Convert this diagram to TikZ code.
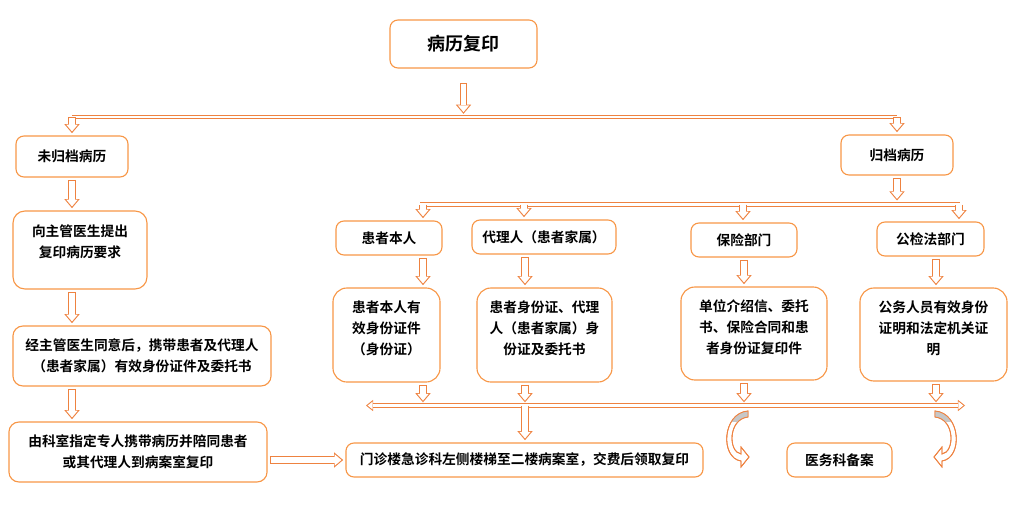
\documentclass[tikz,border=0pt]{standalone}
\usepackage{fontspec}
\usepackage{xcolor}
\usetikzlibrary{arrows.meta}
\setmainfont{Noto Sans CJK SC}[BoldFont={Noto Sans CJK SC Bold}]
\definecolor{BoxOrange}{HTML}{F79646}
\definecolor{LineOrange}{HTML}{EE8240}
\colorlet{FoldGray}{black!22}
\newcommand{\cardfont}{\fontsize{9.75pt}{14.9pt}\selectfont\bfseries}
\newcommand{\titlefont}{\fontsize{12.8pt}{15pt}\selectfont\bfseries}
\tikzset{
  card/.style={draw=BoxOrange, line width=0.8pt, rounded corners=0.2cm, align=center,
    font=\cardfont, outer sep=2pt, minimum height=0.85cm},
  tallcard/.style={card, rounded corners=0.35cm},
  hollow/.style={draw=LineOrange, line width=5.5pt,
    -{Triangle[length=6.5pt,width=11pt,line width=0pt]},
    postaction={draw=white, line width=4pt, shorten <=0.7pt, shorten >=1.2pt,
      -{Triangle[length=4.8pt,width=8.1pt,line width=0pt]}}},
  hollowbus/.style={draw=LineOrange, line width=3.6pt,
    {Triangle[length=5pt,width=8pt,line width=0pt]}-{Triangle[length=5pt,width=8pt,line width=0pt]},
    postaction={draw=white, line width=2.1pt, shorten <=1.2pt, shorten >=1.2pt,
      {Triangle[length=3.5pt,width=5.6pt,line width=0pt]}-{Triangle[length=3.5pt,width=5.6pt,line width=0pt]}}},
  bus/.style={draw=LineOrange, line width=0.8pt, double=white, double distance=1.6pt},
  bendarrow/.style={draw=LineOrange, line width=0.6pt, fill=white},
}

\begin{document}
\begin{tikzpicture}[x=0.025cm, y=-0.025cm]
  \useasboundingbox (0,0) rectangle (1020,513);

  % levels one and two
  \node[card, minimum width=3.675cm, minimum height=1.2cm, font=\titlefont] (title) at (463.5,44) {\raisebox{-4pt}{病历复印}};
  \node[card, minimum width=2.8cm, minimum height=1.025cm] (unarch) at (72,156.5) {未归档病历};
  \node[card, minimum width=2.8cm, minimum height=1cm] (arch) at (897,155) {归档病历};

  % not archived
  \node[tallcard, rounded corners=0.3cm, minimum width=3.35cm, minimum height=1.95cm] (req) at (80,250) {向主管医生提出\\复印病历要求\\[-1.7pt]\mbox{}};
  \node[card, rounded corners=0.25cm, minimum width=6.45cm, minimum height=1.5cm] (consent) at (142,356) {经主管医生同意后，携带患者及代理人\\（患者家属）有效身份证件及委托书};
  \node[card, rounded corners=0.25cm, minimum width=6.45cm, minimum height=1.5cm] (escort) at (138,452) {由科室指定专人携带病历并陪同患者\\或其代理人到病案室复印};

  % archived
  \node[card, minimum width=2.65cm] (self) at (389,238) {患者本人};
  \node[card, minimum width=3.6cm] (agent) at (544,237) {代理人（患者家属）};
  \node[card, minimum width=2.65cm] (insur) at (744,240) {保险部门};
  \node[card, minimum width=2.675cm] (legal) at (930.5,239) {公检法部门};

  \node[tallcard, minimum width=2.675cm, minimum height=2.35cm] (selfdoc) at (386.5,335) {患者本人有\\效身份证件\\（身份证）\\[-5pt]\mbox{}};
  \node[tallcard, minimum width=3.375cm, minimum height=2.35cm] (agentdoc) at (544.5,335) {患者身份证、代理\\人（患者家属）身\\份证及委托书\\[-5pt]\mbox{}};
  \node[tallcard, minimum width=3.65cm, minimum height=2.325cm] (insurdoc) at (754,333.5) {单位介绍信、委托\\书、保险合同和患\\者身份证复印件\\[-5pt]\mbox{}};
  \node[tallcard, minimum width=3.675cm, minimum height=2.325cm] (legaldoc) at (933.5,334.5) {公务人员有效身份\\证明和法定机关证\\明\\[-5pt]\mbox{}};

  \node[card, minimum width=8.925cm] (office) at (524.5,460) {门诊楼急诊科左侧楼梯至二楼病案室，交费后领取复印};
  \node[card, minimum width=2.625cm] (record) at (839.5,460) {医务科备案};

  \coordinate (busL) at (72,117);
  \coordinate (busR) at (897,117);
  \coordinate (bus2L) at (420,204.5);
  \coordinate (bus2R) at (960,204.5);
  \coordinate (bus3L) at (366,405.5);
  \coordinate (bus3R) at (965,405.5);
  \coordinate (d1) at (423,204.5);
  \coordinate (d2) at (524,204.5);
  \coordinate (d3) at (743,204.5);
  \coordinate (d4) at (959,204.5);
  \coordinate (e1) at (423,405.5);
  \coordinate (e2) at (525,405.5);
  \coordinate (e3) at (744,405.5);
  \coordinate (e4) at (936,405.5);

  \draw[hollow] ([yshift=-0.3cm]title.south) -- ([yshift=0.08cm]title.south |- busL);
  \draw[bus] (busL) -- (busR);
  \draw[hollow] (busL) -- (unarch.north);
  \draw[hollow] (busR) -- (arch.north);

  \draw[hollow] (unarch.south) -- (req.north -| unarch.south);
  \draw[hollow] (req.south -| unarch.south) -- (consent.north -| unarch.south);
  \draw[hollow] (consent.south -| unarch.south) -- (escort.north -| unarch.south);
  \draw[hollow] (escort.east |- office.west) -- (office.west);

  \draw[hollow] (arch.south) -- ([yshift=0.1cm]arch.south |- bus2R);
  \draw[bus] (bus2L) -- (bus2R);
  \foreach \d/\n in {d1/self, d2/agent, d3/insur, d4/legal}
    \draw[hollow] (\d) -- (\n.north -| \d);

  \draw[hollowbus] (bus3L) -- (bus3R);
  \foreach \e/\a/\b in {e1/self/selfdoc, e2/agent/agentdoc, e3/insur/insurdoc, e4/legal/legaldoc} {
    \draw[hollow] (\a.south -| \e) -- (\b.north -| \e);
    \draw[hollow] (\b.south -| \e) -- ([yshift=0.08cm]\e);
  }
  \draw[hollow] (e2) -- (office.north -| e2);

  % curved arrows beside the filing box
  \path[save path=\bendL] (748,411) .. controls (722,413) and (720,458) .. (741,461) -- (741,467) -- (749,457) -- (741,447) -- (741,454) .. controls (728,452) and (728,419) .. (748,417) -- cycle;
  \path[save path=\bendR] (935,411) .. controls (961,413) and (963,458) .. (942,461) -- (942,467) -- (934,457) -- (942,447) -- (942,454) .. controls (955,452) and (955,419) .. (935,417) -- cycle;
  \path[bendarrow, use path=\bendL];
  \path[bendarrow, use path=\bendR];
  \begin{scope}
    \clip (700,400) rectangle (990,421);
    \fill[FoldGray, use path=\bendL];
    \fill[FoldGray, use path=\bendR];
  \end{scope}
  \draw[LineOrange, line width=0.6pt, use path=\bendL];
  \draw[LineOrange, line width=0.6pt, use path=\bendR];
\end{tikzpicture}
\end{document}
